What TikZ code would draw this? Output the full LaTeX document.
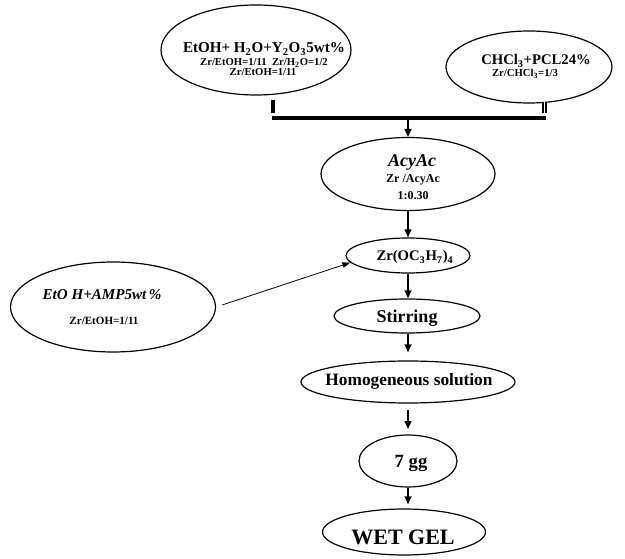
\documentclass[tikz,border=0pt]{standalone}
\usepackage{fontspec}
\setmainfont{Liberation Serif}
\usetikzlibrary{shapes.geometric,arrows.meta}
\newcommand\txtsz[1]{\fontsize{#1}{#1}\selectfont\bfseries}
\tikzset{
	blob/.style 2 args={draw, ellipse, line width=0.9pt, inner sep=0pt, minimum width=#1*0.75pt, minimum height=#2*0.75pt},
	word/.style={inner sep=0pt, anchor=base},
	flow/.style={line width=1.5pt, -{Triangle[length=6pt,width=5pt]}},
	feed/.style={line width=0.6pt, -{Triangle[length=6pt,width=4pt]}},
	bus/.style={line width=3pt},
}

\begin{document}
\begin{tikzpicture}[x=0.75pt, y=-0.75pt]
			%%%%% START %%%%%
			\useasboundingbox (0,0) rectangle (625,559);
			
			\node[blob={190}{90}] (mixA) at (256,50) {};
			\node[blob={166}{72}] (mixB) at (529,67) {};
			\node[blob={174}{73}] (acy) at (408,174) {};
			\node[blob={124}{35}] (zr) at (408,255.5) {};
			\node[blob={205}{90}] (mixC) at (113,307) {};
			\node[blob={146}{34}] (stir) at (407,316) {};
			\node[blob={214}{42}] (homo) at (408,382) {};
			\node[blob={98}{52}] (seven) at (408,461) {};
			\node[blob={163}{46}] (wet) at (404,532) {};
			
			\node[word, font=\txtsz{11.3}] (mixAa) at (264,53) {EtOH+ H\textsubscript{2}O+Y\textsubscript{2}O\textsubscript{3}5wt\%};
			\node[word, font=\txtsz{8}] (mixAb) at (264,66) {Zr/EtOH=1/11\enspace Zr/H\textsubscript{2}O=1/2};
			\node[word, font=\txtsz{8}] (mixAc) at (263,76) {Zr/EtOH=1/11};
			
			\node[word, font=\txtsz{11}] (mixBa) at (536,65) {CHCl\textsubscript{3}+PCL24\%};
			\node[word, font=\txtsz{8}] (mixBb) at (525,77) {Zr/CHCl\textsubscript{3}=1/3};
			
			\node[word, font=\txtsz{13.5}\itshape] (acya) at (412,167) {AcyAc};
			\node[word, font=\txtsz{9}] (acyb) at (413,183) {Zr /AcyAc};
			\node[word, font=\txtsz{9}] (acyc) at (413,200) {1:0.30};
			
			\node[word, font=\txtsz{11}] (zra) at (415,261) {Zr(OC\textsubscript{3}H\textsubscript{7})\textsubscript{4}};
			
			\node[word, font=\txtsz{11.3}\itshape] (mixCa) at (102,300) {EtO H+AMP5wt\,\%};
			\node[word, font=\txtsz{8.3}] (mixCb) at (104,325) {Zr/EtOH=1/11};
			
			\node[word, font=\txtsz{13.5}] (stira) at (407,323) {Stirring};
			\node[word, font=\txtsz{13}] (homoa) at (409,386) {Homogeneous solution};
			\node[word, font=\txtsz{14}] (sevena) at (411,468) {7 gg};
			\node[word, font=\txtsz{16.5}] (weta) at (403,545) {WET GEL};
			
			% joining bar
			\coordinate (busL) at (272,118);
			\coordinate (busR) at (546,118);
			\coordinate (busM) at (408,118);
			\coordinate (stubA) at (273,100);
			\coordinate (stubB) at (544.5,102);
			\draw[bus] (stubA) -- ++(0,13);
			\draw[line width=0.9pt, double, double distance=1.3pt] (stubB) -- ++(0,11);
			\draw[bus] (busL) -- (busR);
			
			\draw[flow] (busM) -- (acy.north);
			\draw[flow] (acy.south) -- (acy.south |- zr.north);
			\draw[flow] (zr.south) -- (zr.south |- stir.north);
			\draw[flow, shorten >=6pt] (zr.south |- stir.south) -- (homo.north);
			\draw[flow, shorten <=5pt, shorten >=4pt] (homo.south) -- (seven.north);
			\draw[flow, shorten >=3pt] (seven.south) -- (seven.south |- wet.north);
			
			\draw[feed, shorten <=5pt] (mixC.east) -- (zr.187);
			%%%%% END %%%%%
\end{tikzpicture}
\end{document}
